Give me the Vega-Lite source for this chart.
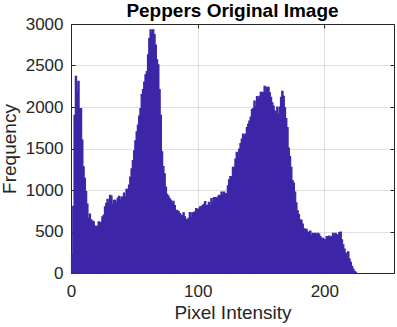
{
  "$schema": "https://vega.github.io/schema/vega-lite/v6.json",
  "width": 323,
  "height": 249,
  "autosize": {"type": "none"},
  "padding": {"left": 71, "top": 24, "right": 3, "bottom": 54},
  "background": "white",
  "config": {
    "font": "Liberation Sans",
    "view": {"stroke": "#262626", "strokeWidth": 1},
    "axis": {
      "labelFont": "Liberation Sans",
      "titleFont": "Liberation Sans",
      "labelColor": "#262626",
      "titleColor": "#262626",
      "labelFontSize": 17,
      "titleFontSize": 19,
      "titleFontWeight": "normal",
      "domain": false,
      "tickColor": "#262626",
      "gridColor": "#262626",
      "gridOpacity": 0.15
    }
  },
  "title": {
    "text": "Peppers Original Image",
    "font": "Liberation Sans",
    "fontSize": 19,
    "fontWeight": "bold",
    "color": "black",
    "offset": 4,
    "dy": 10,
    "anchor": "middle"
  },
  "data": {
    "values": [
      {"v":0,"count":219},{"v":1,"count":804},{"v":2,"count":1900},{"v":3,"count":2370},{"v":4,"count":2180},{"v":5,"count":2310},{"v":6,"count":1980},{"v":7,"count":1980},{"v":8,"count":1600},{"v":9,"count":1280},
      {"v":10,"count":1140},{"v":11,"count":980},{"v":12,"count":830},{"v":13,"count":660},{"v":14,"count":710},{"v":15,"count":640},{"v":16,"count":625},{"v":17,"count":615},{"v":18,"count":550},{"v":19,"count":565},
      {"v":20,"count":557},{"v":21,"count":615},{"v":22,"count":600},{"v":23,"count":610},{"v":24,"count":677},{"v":25,"count":697},{"v":26,"count":796},{"v":27,"count":840},{"v":28,"count":888},{"v":29,"count":832},
      {"v":30,"count":935},{"v":31,"count":927},{"v":32,"count":828},{"v":33,"count":875},{"v":34,"count":875},{"v":35,"count":844},{"v":36,"count":900},{"v":37,"count":923},{"v":38,"count":875},{"v":39,"count":915},
      {"v":40,"count":915},{"v":41,"count":963},{"v":42,"count":915},{"v":43,"count":1007},{"v":44,"count":1007},{"v":45,"count":1059},{"v":46,"count":1154},{"v":47,"count":1254},{"v":48,"count":1353},{"v":49,"count":1473},
      {"v":50,"count":1592},{"v":51,"count":1700},{"v":52,"count":1783},{"v":53,"count":1890},{"v":54,"count":1982},{"v":55,"count":2150},{"v":56,"count":2209},{"v":57,"count":2300},{"v":58,"count":2388},{"v":59,"count":2428},
      {"v":60,"count":2627},{"v":61,"count":2826},{"v":62,"count":2929},{"v":63,"count":2880},{"v":64,"count":2929},{"v":65,"count":2873},{"v":66,"count":2746},{"v":67,"count":2567},{"v":68,"count":2507},{"v":69,"count":2209},
      {"v":70,"count":1898},{"v":71,"count":1461},{"v":72,"count":1281},{"v":73,"count":1194},{"v":74,"count":1035},{"v":75,"count":947},{"v":76,"count":927},{"v":77,"count":895},{"v":78,"count":875},{"v":79,"count":836},
      {"v":80,"count":864},{"v":81,"count":812},{"v":82,"count":736},{"v":83,"count":756},{"v":84,"count":740},{"v":85,"count":716},{"v":86,"count":697},{"v":87,"count":685},{"v":88,"count":724},{"v":89,"count":677},
      {"v":90,"count":645},{"v":91,"count":637},{"v":92,"count":657},{"v":93,"count":728},{"v":94,"count":669},{"v":95,"count":724},{"v":96,"count":724},{"v":97,"count":736},{"v":98,"count":776},{"v":99,"count":764},
      {"v":100,"count":770},{"v":101,"count":796},{"v":102,"count":796},{"v":103,"count":812},{"v":104,"count":828},{"v":105,"count":860},{"v":106,"count":812},{"v":107,"count":816},{"v":108,"count":852},{"v":109,"count":816},
      {"v":110,"count":895},{"v":111,"count":852},{"v":112,"count":907},{"v":113,"count":907},{"v":114,"count":895},{"v":115,"count":915},{"v":116,"count":935},{"v":117,"count":927},{"v":118,"count":975},{"v":119,"count":935},
      {"v":120,"count":975},{"v":121,"count":955},{"v":122,"count":955},{"v":123,"count":1051},{"v":124,"count":1122},{"v":125,"count":1162},{"v":126,"count":1162},{"v":127,"count":1274},{"v":128,"count":1274},{"v":129,"count":1373},
      {"v":130,"count":1453},{"v":131,"count":1385},{"v":132,"count":1493},{"v":133,"count":1560},{"v":134,"count":1612},{"v":135,"count":1672},{"v":136,"count":1652},{"v":137,"count":1672},{"v":138,"count":1751},{"v":139,"count":1791},
      {"v":140,"count":1831},{"v":141,"count":1879},{"v":142,"count":1970},{"v":143,"count":1982},{"v":144,"count":2070},{"v":145,"count":1998},{"v":146,"count":2125},{"v":147,"count":2101},{"v":148,"count":2129},{"v":149,"count":2177},
      {"v":150,"count":2177},{"v":151,"count":2169},{"v":152,"count":2249},{"v":153,"count":2169},{"v":154,"count":2237},{"v":155,"count":2237},{"v":156,"count":2169},{"v":157,"count":2117},{"v":158,"count":2050},{"v":159,"count":2010},
      {"v":160,"count":1950},{"v":161,"count":1910},{"v":162,"count":1998},{"v":163,"count":1910},{"v":164,"count":1998},{"v":165,"count":2117},{"v":166,"count":2189},{"v":167,"count":2129},{"v":168,"count":1990},{"v":169,"count":1859},
      {"v":170,"count":1751},{"v":171,"count":1504},{"v":172,"count":1401},{"v":173,"count":1274},{"v":174,"count":1114},{"v":175,"count":1083},{"v":176,"count":975},{"v":177,"count":844},{"v":178,"count":748},{"v":179,"count":704},
      {"v":180,"count":637},{"v":181,"count":637},{"v":182,"count":589},{"v":183,"count":533},{"v":184,"count":525},{"v":185,"count":525},{"v":186,"count":494},{"v":187,"count":478},{"v":188,"count":505},{"v":189,"count":454},
      {"v":190,"count":478},{"v":191,"count":470},{"v":192,"count":478},{"v":193,"count":462},{"v":194,"count":478},{"v":195,"count":470},{"v":196,"count":438},{"v":197,"count":418},{"v":198,"count":418},{"v":199,"count":406},
      {"v":200,"count":398},{"v":201,"count":438},{"v":202,"count":430},{"v":203,"count":446},{"v":204,"count":430},{"v":205,"count":438},{"v":206,"count":478},{"v":207,"count":458},{"v":208,"count":478},{"v":209,"count":458},
      {"v":210,"count":458},{"v":211,"count":486},{"v":212,"count":494},{"v":213,"count":398},{"v":214,"count":338},{"v":215,"count":287},{"v":216,"count":239},{"v":217,"count":199},{"v":218,"count":255},{"v":219,"count":167},
      {"v":220,"count":127},{"v":221,"count":80},{"v":222,"count":48},{"v":223,"count":20},{"v":224,"count":8}
    ]
  },
  "layer": [
    {
      "mark": {"type": "bar", "color": "#3E26A8", "binSpacing": 0, "stroke": "#3E26A8", "strokeWidth": 1.2},
      "encoding": {
        "x": {
          "field": "v",
          "type": "quantitative",
          "bin": {"step": 1, "extent": [0, 256]},
          "scale": {"domain": [0, 255], "nice": false},
          "axis": {
            "orient": "bottom",
            "title": "Pixel Intensity",
            "values": [0, 100, 200],
            "grid": true,
            "tickSize": -4,
            "labelPadding": 14,
            "titlePadding": 4,
            "labelFlush": false
          }
        },
        "y": {
          "field": "count",
          "type": "quantitative",
          "aggregate": "sum",
          "scale": {"domain": [0, 3000], "nice": false},
          "axis": {
            "orient": "left",
            "title": "Frequency",
            "format": "d",
            "values": [0, 500, 1000, 1500, 2000, 2500, 3000],
            "grid": true,
            "tickSize": -4,
            "labelPadding": 12,
            "titlePadding": 6
          }
        }
      }
    },
    {
      "mark": {"type": "bar", "opacity": 0},
      "encoding": {
        "x": {
          "field": "v",
          "type": "quantitative",
          "bin": {"step": 1, "extent": [0, 256]},
          "scale": {"domain": [0, 255], "nice": false},
          "axis": {"orient": "top", "title": null, "labels": false, "values": [0, 100, 200], "grid": false, "tickSize": -4}
        },
        "y": {
          "field": "count",
          "type": "quantitative",
          "aggregate": "sum",
          "scale": {"domain": [0, 3000], "nice": false},
          "axis": {"orient": "right", "title": null, "labels": false, "values": [0, 500, 1000, 1500, 2000, 2500, 3000], "grid": false, "tickSize": -4}
        }
      }
    }
  ],
  "resolve": {"axis": {"x": "independent", "y": "independent"}}
}
